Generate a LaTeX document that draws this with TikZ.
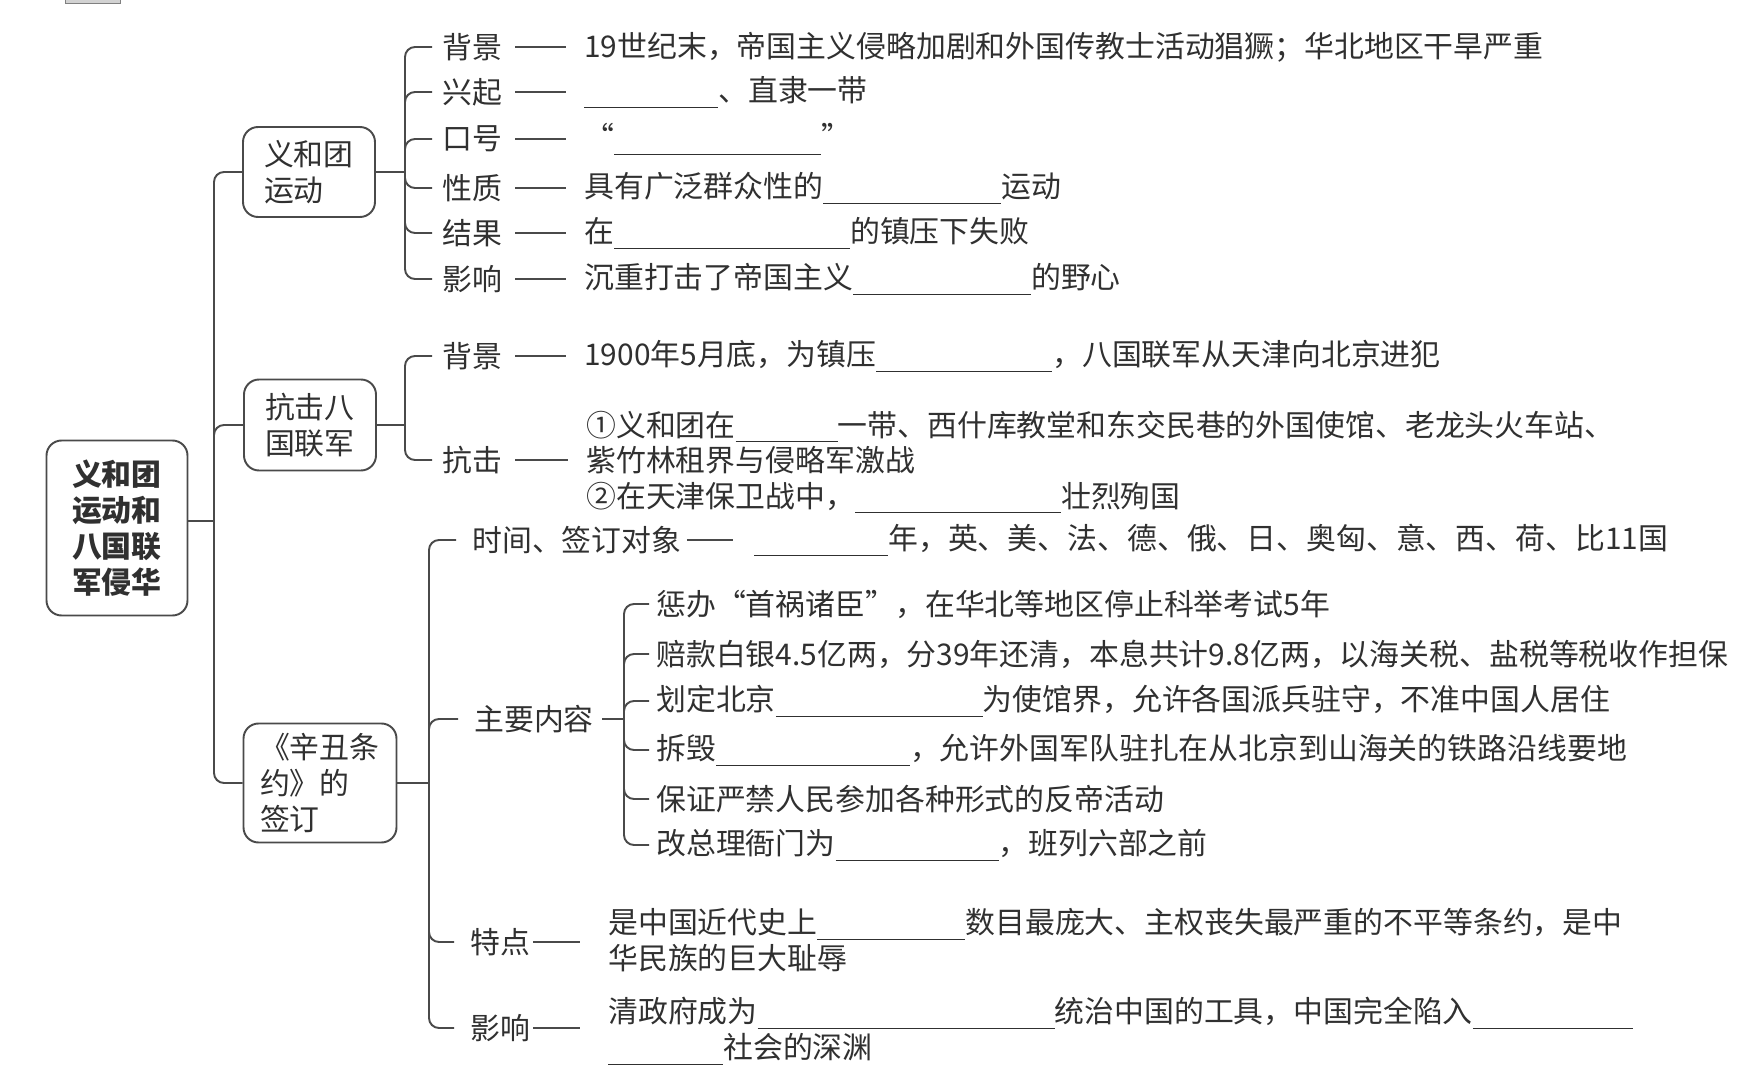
\documentclass[tikz,border=0pt]{standalone}
\usepackage{fontspec}
\setmainfont{Noto Sans CJK SC}
\usetikzlibrary{calc}
\definecolor{linec}{HTML}{4A4A4A}
\definecolor{txtc}{HTML}{303030}
\newlength\pxu
\setlength\pxu{0.02cm}
\newcommand\blank[1]{\rule[-0.2em]{#1\pxu}{0.5pt}}

\begin{document}
\begin{tikzpicture}[x=0.02cm, y=-0.02cm,
    box/.style={draw=linec, line width=1.1pt, rounded corners=0.3cm, align=left, inner sep=0pt, text=txtc, font=\fontsize{17}{20.5}\selectfont},
    lbl/.style={anchor=west, inner sep=0pt, text=txtc, font=\fontsize{17}{20.5}\selectfont},
    txt/.style={anchor=west, inner sep=0pt, align=left, text=txtc, font=\fontsize{17}{20.2}\selectfont},
    brk/.style={draw=linec, line width=1.1pt, rounded corners=0.2cm},
    dsh/.style={draw=linec, line width=1.1pt}]
        \useasboundingbox (0,0) rectangle (1763,1077);
        \filldraw[fill=gray!35, draw=gray] (65,-4) rectangle (120,3);

        \node[box, minimum width=2.82cm, minimum height=3.5cm, text width=1.8cm, font=\fontsize{17}{20.5}\selectfont\bfseries] (root) at (117,528) {义和团\\运动和\\八国联\\军侵华};
        \node[box, minimum width=2.64cm, minimum height=1.8cm, text width=1.8cm] (b1) at (309,172) {义和团\\运动};
        \node[box, minimum width=2.64cm, minimum height=1.82cm, text width=1.8cm] (b2) at (310,425) {抗击八\\国联军};
        \node[box, minimum width=3.06cm, minimum height=2.38cm, text width=2.4cm] (b3) at (320,783) {《辛丑条\\约》的\\签订};

        \coordinate (jt) at (214,521);
        \coordinate (j1) at (405,172);
        \coordinate (j2) at (405,425);
        \coordinate (j3) at (429,783);
        \coordinate (j4) at (624,719);

        \node[lbl] (a1) at (442,47) {背景};
        \node[lbl] (a2) at (442,92) {兴起};
        \node[lbl] (a3) at (442,139) {口号};
        \node[lbl] (a4) at (442,188) {性质};
        \node[lbl] (a5) at (442,233) {结果};
        \node[lbl] (a6) at (442,279) {影响};
        \node[lbl] (c1) at (442,356) {背景};
        \node[lbl] (c2) at (442,460) {抗击};
        \node[lbl] (d1) at (472,540) {时间、签订对象};
        \node[lbl] (d2) at (474,719) {主要内容};
        \node[lbl] (d3) at (470,942) {特点};
        \node[lbl] (d4) at (470,1028) {影响};

        \node[txt] (t1) at (584,47) {19世纪末，帝国主义侵略加剧和外国传教士活动猖獗；华北地区干旱严重};
        \node[txt] (t2) at (584,92) {\blank{134}、直隶一带};
        \node[txt] (t3) at (584,139) {“\blank{207}”};
        \node[txt] (t4) at (584,188) {具有广泛群众性的\blank{178}运动};
        \node[txt] (t5) at (584,233) {在\blank{236}的镇压下失败};
        \node[txt] (t6) at (584,279) {沉重打击了帝国主义\blank{178}的野心};
        \node[txt] (t7) at (584,356) {1900年5月底，为镇压\blank{176}，八国联军从天津向北京进犯};
        \node[txt] (t8) at (586,462) {①义和团在\blank{102}一带、西什库教堂和东交民巷的外国使馆、老龙头火车站、\\紫竹林租界与侵略军激战\\②在天津保卫战中，\blank{206}壮烈殉国};
        \node[txt] (t9) at (754,540) {\blank{134}年，英、美、法、德、俄、日、奥匈、意、西、荷、比11国};
        \node[txt] (e1) at (656,604) {惩办“首祸诸臣”，在华北等地区停止科举考试5年};
        \node[txt] (e2) at (656,654) {赔款白银4.5亿两，分39年还清，本息共计9.8亿两，以海关税、盐税等税收作担保};
        \node[txt] (e3) at (656,701) {划定北京\blank{207}为使馆界，允许各国派兵驻守，不准中国人居住};
        \node[txt] (e4) at (656,750) {拆毁\blank{194}，允许外国军队驻扎在从北京到山海关的铁路沿线要地};
        \node[txt] (e5) at (656,799) {保证严禁人民参加各种形式的反帝活动};
        \node[txt] (e6) at (656,845) {改总理衙门为\blank{163}，班列六部之前};
        \node[txt] (t10) at (608,940) {是中国近代史上\blank{148}数目最庞大、主权丧失最严重的不平等条约，是中\\华民族的巨大耻辱};
        \node[txt] (t11) at (608,1031) {清政府成为\blank{297}统治中国的工具，中国完全陷入\blank{160}\\\blank{115}社会的深渊};

        \draw[dsh] (root.east |- jt) -- (jt);
        \foreach \b in {b1,b2,b3}
            \draw[brk] (jt) |- (\b.west);
        \draw[dsh] (b1.east) -- (j1);
        \draw[dsh] (b2.east) -- (j2);
        \draw[dsh] (b3.east) -- (j3);
        \foreach \n in {a1,a2,a3,a4,a5,a6}
            \draw[brk, shorten >=0.2cm] (j1) |- (\n.west);
        \foreach \n in {c1,c2}
            \draw[brk, shorten >=0.2cm] (j2) |- (\n.west);
        \foreach \n in {d1,d2,d3,d4}
            \draw[brk, shorten >=0.32cm] (j3) |- (\n.west);
        \draw[dsh, shorten <=0.16cm] (d2.east) -- (j4);
        \foreach \n in {e1,e2,e3,e4,e5,e6}
            \draw[brk, shorten >=0.14cm] (j4) |- (\n.west);

        \foreach \n/\t in {a1/t1,a2/t2,a3/t3,a4/t4,a5/t5,a6/t6,c1/t7,c2/t8}
            \draw[dsh, shorten <=0.26cm, shorten >=0.36cm] (\n.east) -- (\n.east -| \t.west);
        \draw[dsh, shorten <=0.1cm, shorten >=0.42cm] (d1.east) -- (d1.east -| t9.west);
        \draw[dsh, shorten <=0.06cm, shorten >=0.56cm] (d3.east) -- (d3.east -| t10.west);
        \draw[dsh, shorten <=0.06cm, shorten >=0.56cm] (d4.east) -- (d4.east -| t11.west);
\end{tikzpicture}
\end{document}
